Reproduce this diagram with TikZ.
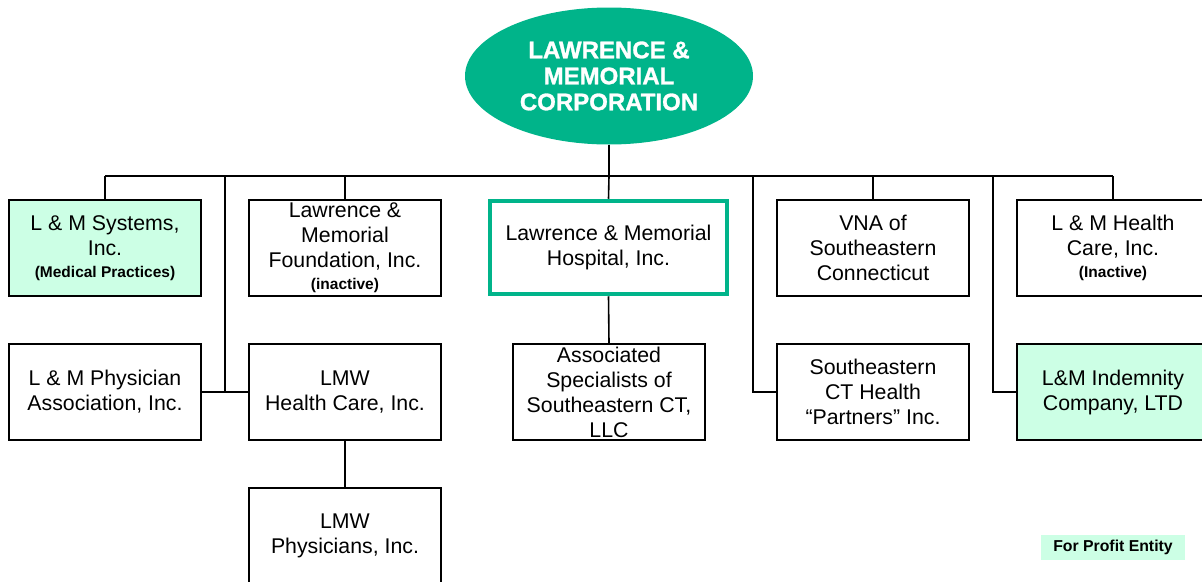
\documentclass[tikz,border=0pt]{standalone}
\usepackage{fontspec}
\setmainfont{Liberation Sans}
\newfontfamily\titlefont{Liberation Sans}[BoldFeatures={FakeBold=1.2}]
\usetikzlibrary{shapes.geometric}
\definecolor{lmgreen}{RGB}{0,180,138}
\definecolor{mint}{RGB}{204,255,229}
\begin{document}
\begin{tikzpicture}[x=1pt,y=-1pt,
  box/.style={draw=black,line width=1.6pt,rectangle,inner sep=0pt,minimum width=192pt,minimum height=96pt,align=center,font=\fontsize{21.3}{25}\selectfont},
  fp/.style={box,fill=mint},
  conn/.style={draw=black,line width=1.6pt}]
\useasboundingbox (0,0) rectangle (1202,581);
\clip (0,0) rectangle (1202,581);
\newcommand{\smalltext}[1]{{\fontsize{15.5}{18}\selectfont\bfseries #1}}
% top
\node[ellipse,fill=lmgreen,minimum width=288pt,minimum height=137pt,inner sep=0pt,align=center,text=white,font=\titlefont\fontsize{24}{26}\selectfont\bfseries] (corp) at (609,76) {LAWRENCE \&\\MEMORIAL\\CORPORATION};
% row 1
\node[fp] (sys) at (105,248) {L \& M Systems,\\Inc.\\[-3pt]\smalltext{(Medical Practices)}};
\node[box] (fnd) at (345,248) {Lawrence \&\\Memorial\\Foundation, Inc.\\[-3pt]\smalltext{(inactive)}};
\node[box,draw=lmgreen,line width=4.5pt,minimum width=237pt,minimum height=93pt] (hosp) at (608.5,247.5) {Lawrence \& Memorial\\Hospital, Inc.};
\node[box] (vna) at (873,248) {VNA of\\Southeastern\\Connecticut};
\node[box] (lmhc) at (1113,248) {L \& M Health\\Care, Inc.\\[-3pt]\smalltext{(Inactive)}};
% row 2
\node[box] (phys) at (105,392) {L \& M Physician\\Association, Inc.};
\node[box] (lmwhc) at (345,392) {LMW\\Health Care, Inc.};
\node[box] (assoc) at (609,392) {Associated\\Specialists of\\Southeastern CT,\\LLC};
\node[box] (sect) at (873,392) {Southeastern\\CT Health\\“Partners” Inc.};
\node[fp] (indem) at (1113,392) {L\&M Indemnity\\Company, LTD};
% row 3
\node[box] (lmwp) at (345,536) {LMW\\Physicians, Inc.};
% legend
\node[fill=mint,minimum width=144pt,minimum height=25pt,inner sep=0pt,font=\fontsize{15.8}{18}\selectfont\bfseries] (legend) at (1113,547.5) {For Profit Entity};
% bar coordinates
\coordinate (b1) at (105,176);
\coordinate (b2) at (225,176);
\coordinate (b3) at (345,176);
\coordinate (bc) at (609,176);
\coordinate (b5) at (753,176);
\coordinate (b6) at (873,176);
\coordinate (b7) at (993,176);
\coordinate (b8) at (1113,176);
\coordinate (pj) at (225,392);
% connectors
\draw[conn] (corp.south) -- (bc);
\draw[conn] (b1) -- (b8);
\draw[conn] (bc) -- (hosp.north);
\draw[conn] (b1) -- (sys.north);
\draw[conn] (b2) -- (pj);
\draw[conn] (phys.east) -- (lmwhc.west);
\draw[conn] (b3) -- (fnd.north);
\draw[conn] (b5) |- (sect.west);
\draw[conn] (b6) -- (vna.north);
\draw[conn] (b7) |- (indem.west);
\draw[conn] (b8) -- (lmhc.north);
\draw[conn] (lmwhc.south) -- (lmwp.north);
\draw[conn] (hosp.south) -- (assoc.north);
\end{tikzpicture}
\end{document}
